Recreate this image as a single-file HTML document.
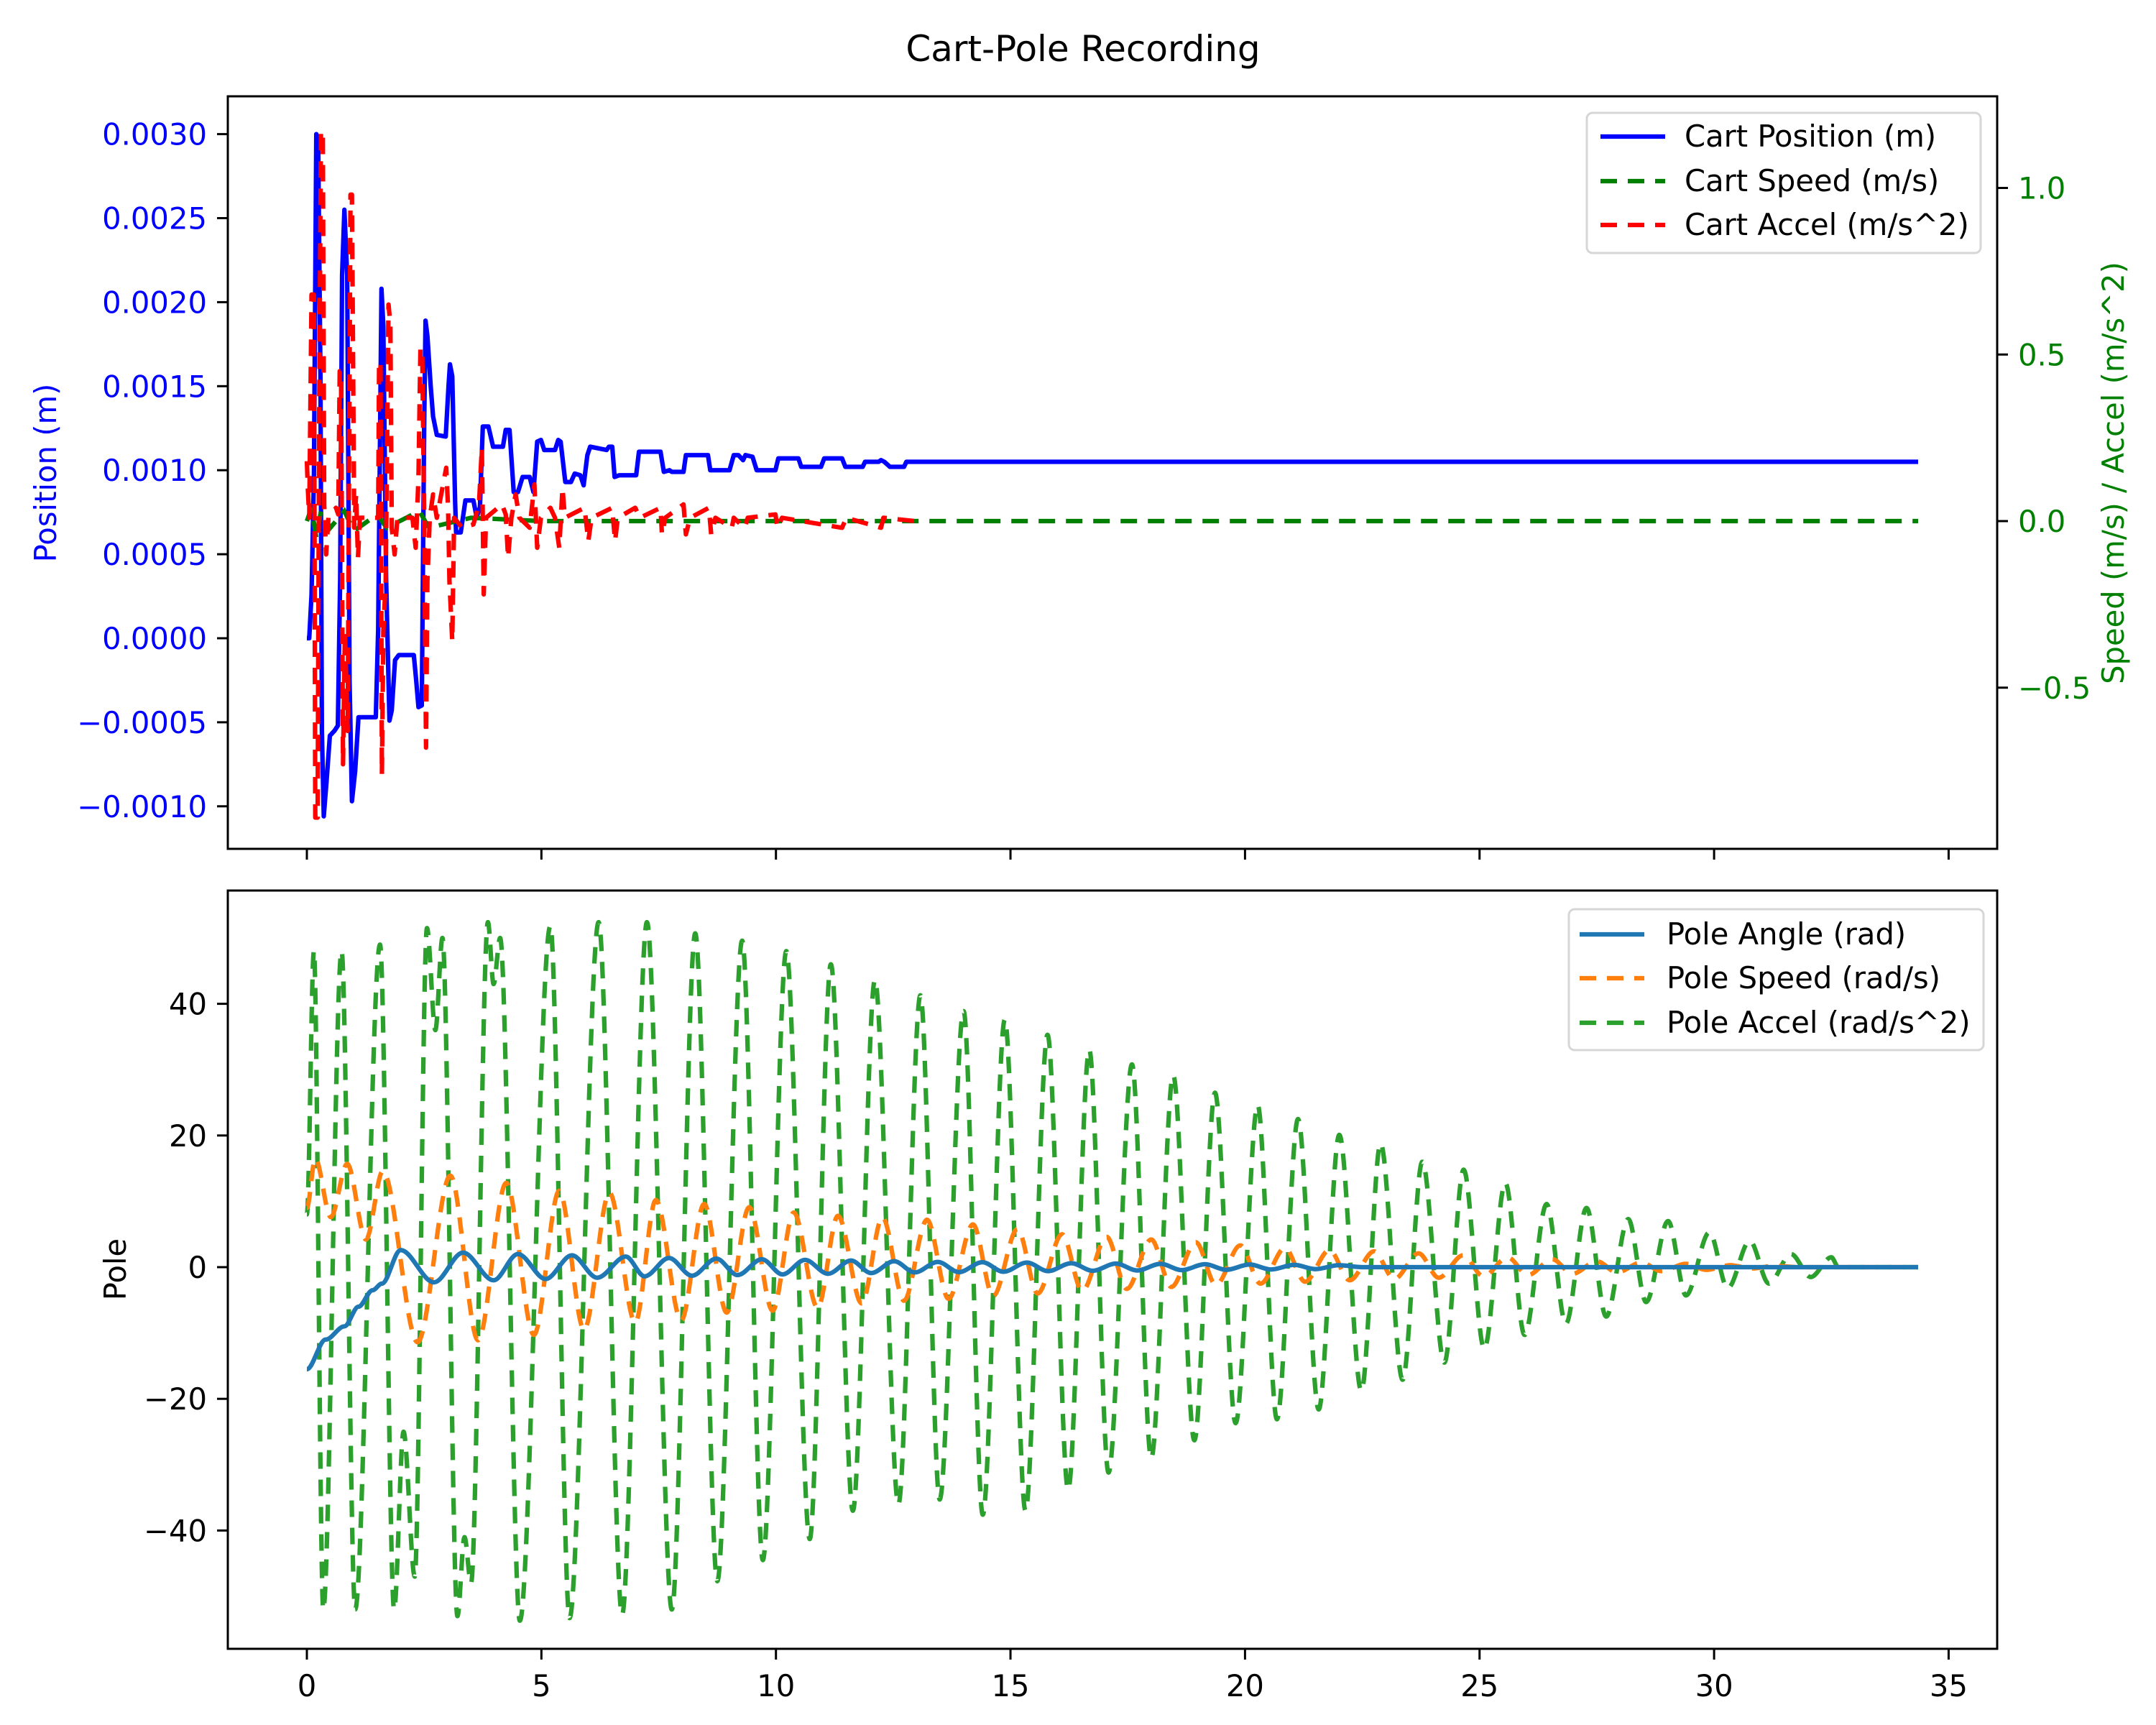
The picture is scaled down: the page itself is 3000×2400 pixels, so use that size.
<!DOCTYPE html>
<html><head><meta charset="utf-8"><style>
html,body{margin:0;padding:0;background:#fff}
svg{display:block}
text{font-family:"DejaVu Sans","Liberation Sans",sans-serif}
</style></head><body>
<svg id="chart" xmlns="http://www.w3.org/2000/svg" width="3000" height="2400" viewBox="0 0 3000 2400">
<rect width="3000" height="2400" fill="#fff"/>
<text x="1507" y="85" font-size="50" text-anchor="middle">Cart-Pole Recording</text>
<defs>
<clipPath id="clipTop"><rect x="317" y="134" width="2462" height="1047"/></clipPath>
<clipPath id="clipBot"><rect x="317" y="1239" width="2462" height="1055"/></clipPath>
</defs>
<g id="topPlot" clip-path="url(#clipTop)"></g>
<g id="botPlot" clip-path="url(#clipBot)"></g>
<g id="axes"></g>
<rect x="317" y="134" width="2462" height="1047" fill="none" stroke="#000" stroke-width="3"/>
<rect x="317" y="1239" width="2462" height="1055" fill="none" stroke="#000" stroke-width="3"/>
<text transform="translate(78,658) rotate(-90)" font-size="41.7" fill="#0000ff" text-anchor="middle">Position (m)</text>
<text transform="translate(2955,658) rotate(-90)" font-size="41.7" fill="#008000" text-anchor="middle">Speed (m/s) / Accel (m/s^2)</text>
<text transform="translate(175,1766) rotate(-90)" font-size="41.7" fill="#000" text-anchor="middle">Pole</text>
<g>
<rect x="2208" y="157" width="548" height="195" rx="8" fill="#fff" fill-opacity="0.8" stroke="#d6d6d6" stroke-width="3"/>
<line x1="2227" y1="190" x2="2317" y2="190" stroke="#0000ff" stroke-width="6.25"/>
<text x="2344" y="204" font-size="41.7">Cart Position (m)</text>
<line x1="2227" y1="252" x2="2317" y2="252" stroke="#008000" stroke-width="6.25" stroke-dasharray="23 15"/>
<text x="2344" y="266" font-size="41.7">Cart Speed (m/s)</text>
<line x1="2227" y1="313" x2="2317" y2="313" stroke="#ff0000" stroke-width="6.25" stroke-dasharray="23 15"/>
<text x="2344" y="327" font-size="41.7">Cart Accel (m/s^2)</text>
</g>
<g>
<rect x="2183" y="1265" width="577" height="196" rx="8" fill="#fff" fill-opacity="0.8" stroke="#d6d6d6" stroke-width="3"/>
<line x1="2198" y1="1300" x2="2288" y2="1300" stroke="#1f77b4" stroke-width="6.25"/>
<text x="2319" y="1314" font-size="41.7">Pole Angle (rad)</text>
<line x1="2198" y1="1361" x2="2288" y2="1361" stroke="#ff7f0e" stroke-width="6.25" stroke-dasharray="23 15"/>
<text x="2319" y="1375" font-size="41.7">Pole Speed (rad/s)</text>
<line x1="2198" y1="1423" x2="2288" y2="1423" stroke="#2ca02c" stroke-width="6.25" stroke-dasharray="23 15"/>
<text x="2319" y="1437" font-size="41.7">Pole Accel (rad/s^2)</text>
</g>
</svg>
<script>
// ---- data ----
const xTicks = [0,5,10,15,20,25,30,35];
const xTickLabels = ["0","5","10","15","20","25","30","35"];
const posTicks = [-0.0010,-0.0005,0,0.0005,0.0010,0.0015,0.0020,0.0025,0.0030];
const posTickLabels = ["\u22120.0010","\u22120.0005","0.0000","0.0005","0.0010","0.0015","0.0020","0.0025","0.0030"];
const rightTicks = [-0.5,0,0.5,1.0];
const rightTickLabels = ["\u22120.5","0.0","0.5","1.0"];
const poleTicks = [-40,-20,0,20,40];
const poleTickLabels = ["\u221240","\u221220","0","20","40"];

const cartPosT = [0,.05,.10,.15,.20,.24,.29,.32,.36,.42,.49,.59,.66,.71,.75,.80,.86,.91,.96,1.03,1.10,1.47,1.52,1.59,1.63,1.69,1.76,1.81,1.88,1.96,2.28,2.33,2.38,2.45,2.50,2.53,2.57,2.64,2.69,2.77,2.96,3.02,3.05,3.10,3.16,3.18,3.28,3.38,3.55,3.62,3.69,3.75,3.87,3.97,4.18,4.24,4.32,4.41,4.50,4.60,4.75,4.83,4.91,4.99,5.06,5.29,5.36,5.41,5.51,5.63,5.71,5.83,5.90,5.98,6.04,6.39,6.44,6.51,6.56,6.66,7.02,7.08,7.54,7.61,7.73,7.78,8.03,8.08,8.55,8.60,9.01,9.10,9.20,9.30,9.35,9.50,9.59,9.99,10.05,10.48,10.54,10.96,11.03,11.41,11.48,11.85,11.90,12.19,12.24,12.31,12.43,12.73,12.78,34.35];
const cartPosMm = [0,0,.26,.96,3.0,2.97,1.56,-.55,-1.06,-.85,-.58,-.55,-.52,.35,2.16,2.55,2.16,-.25,-.97,-.79,-.47,-.47,.05,2.08,1.86,.35,-.49,-.43,-.13,-.10,-.10,-.25,-.41,-.40,1.26,1.89,1.80,1.50,1.32,1.21,1.20,1.50,1.63,1.56,.81,.63,.63,.82,.82,.72,.78,1.26,1.26,1.14,1.14,1.24,1.24,.87,.87,.96,.96,.87,1.17,1.18,1.12,1.12,1.18,1.17,.93,.93,.98,.97,.91,1.09,1.14,1.12,1.14,1.14,.96,.97,.97,1.11,1.11,.99,1.00,.99,.99,1.09,1.09,1.00,1.00,1.09,1.09,1.06,1.09,1.08,1.00,1.00,1.07,1.07,1.02,1.02,1.07,1.07,1.02,1.02,1.05,1.05,1.06,1.05,1.02,1.02,1.05,1.05];

const cartAccT = [0,.02,.05,.10,.15,.18,.23,.26,.30,.34,.37,.41,.46,.62,.67,.70,.73,.77,.81,.87,.93,.96,1.01,1.05,1.09,1.13,1.52,1.54,1.57,1.60,1.63,1.68,1.74,1.78,1.81,1.87,1.93,2.25,2.32,2.38,2.42,2.46,2.50,2.54,2.57,2.62,2.69,2.77,2.97,3.01,3.04,3.10,3.14,3.31,3.55,3.67,3.73,3.77,3.82,4.16,4.24,4.29,4.36,4.45,4.53,4.75,4.85,4.91,4.99,5.19,5.29,5.38,5.45,5.50,5.92,6.00,6.07,6.51,6.57,6.63,7.00,7.10,7.54,7.57,7.64,8.03,8.08,8.17,8.57,8.62,8.71,9.06,9.10,9.33,9.40,9.99,10.03,10.13,11.41,11.50,12.24,12.29,12.97];
const cartAccV = [.18,.10,.01,.68,.68,-.89,-.89,.28,1.17,1.17,.05,-.10,.01,.04,.02,.45,.45,-.73,-.33,-.63,.98,.98,-.02,.08,-.11,.01,.01,.48,.47,-.76,-.33,-.18,.65,.59,-.02,-.10,.01,.01,-.08,.13,.52,.50,.01,-.68,-.18,.01,.08,.01,.16,.04,-.18,-.36,.01,-.02,-.01,.05,.22,-.22,.01,.05,.02,-.11,.01,.08,.01,-.02,.11,-.08,.01,.04,.01,-.08,.10,.01,.04,-.06,.01,.04,-.06,.01,.04,.01,.04,-.04,.01,.05,-.04,.01,.04,-.04,.01,-.02,.01,-.02,.01,.02,-.02,.01,-.02,.01,-.02,.01,0];

const cartSpdT = [0,.1,.2,.3,.5,.8,1.0,1.5,1.7,2.4,2.6,3.5,5,34.35];
const cartSpdV = [0,.04,-.05,.03,-.02,.03,-.03,.02,-.02,.03,-.02,.01,0,0];

const poleAccT = [0,.15,.35,.74,1.03,1.56,1.86,2.06,2.30,2.56,2.74,2.89,3.21,3.36,3.5,3.86,3.98,4.12,4.54,5.19,5.60,6.22,6.72,7.25,7.78,8.28,8.75,9.28,9.72,10.22,10.72,11.17,11.64,12.11,12.61,13.08,13.49,14.0,14.41,14.88,15.32,15.79,16.23,16.68,17.09,17.59,18.0,18.47,18.92,19.36,19.8,20.27,20.68,21.13,21.57,22.01,22.48,22.89,23.36,23.78,24.25,24.66,25.1,25.55,25.96,26.43,26.84,27.28,27.7,28.17,28.55,29.02,29.4,29.9,30.29,30.76,31.17,31.64,32.06,32.5,32.65,34.35];
const poleAccV = [8,48,-52,48,-52,49,-52,-25,-47,51.5,36,50,-53,-41,-48,52.4,43,50,-53.7,51.8,-53.3,52.4,-52.8,52.4,-52,50.7,-47.7,49.6,-44.5,48,-41.3,46,-37,43.6,-36,41.3,-35.3,38.9,-37.6,37.6,-37,35.3,-33.8,33,-31.2,30.8,-29,29.1,-26.3,26.5,-23.7,24.6,-23.1,22.5,-21.6,20.1,-18.8,18.8,-17.1,16,-14.5,14.8,-12.4,12.8,-10.3,9.6,-8.6,9,-7.5,7.3,-5.3,7,-4.3,5.3,-3.2,4,-2.5,2,-1.5,1.5,0,0];

const poleSpdT = [0,.18,.51,.86,1.26,1.62,2.36,3.06,3.65,4.25,4.84,5.38,5.91,6.45,7.0,7.44,7.98,8.47,8.95,9.43,9.93,10.38,10.89,11.32,11.83,12.27,12.73,13.22,13.68,14.2,14.63,15.15,15.58,16.1,16.53,17.05,17.48,18.0,18.43,18.95,19.38,19.9,20.33,20.85,21.28,21.8,22.23,22.75,23.18,23.7,24.13,24.65,25.08,25.6,26.03,26.55,26.98,27.5,27.93,28.45,28.88,29.4,29.83,30.35,30.8,31.3,31.8,34.35];
const poleSpdV = [9,16.5,7.6,15.7,4.2,14.6,-11.4,13.9,-11.1,12.8,-10.3,11.6,-9.5,11.3,-8.4,10.2,-8.1,9.6,-6.9,9.1,-6.6,8.3,-6.2,7.8,-5.5,7.6,-5.1,7.2,-4.8,6.5,-4.4,5.8,-4,5,-3.6,4.6,-3.3,4.2,-3,3.8,-2.7,3.3,-2.5,2.9,-2.2,2.6,-2,2.4,-1.8,2.1,-1.6,1.8,-1.4,1.5,-1.2,1.2,-1,0.9,-0.8,0.7,-0.6,0.5,-0.4,0.3,-0.2,0.2,0,0];

const poleAngT = [0,.4,.8,1.1,1.4,1.6,2.0,2.71,3.33,3.98,4.5,5.09,5.65,6.19,6.8,7.2,7.72,8.21,8.73,9.18,9.7,10.14,10.62,11.11,11.6,12.03,12.52,12.96,13.45,13.9,14.4,14.85,15.35,15.8,16.3,16.75,17.25,17.7,18.2,18.65,19.15,19.6,20.1,20.55,21.05,21.5,22.0,22.5,23.5,34.35];
const poleAngV = [-15.5,-11,-9,-6,-3.5,-2.5,2.6,-2.3,2.2,-2.0,2.0,-1.8,1.8,-1.6,1.6,-1.4,1.4,-1.3,1.3,-1.2,1.2,-1.1,1.1,-1.0,1.0,-0.9,0.9,-0.8,0.8,-0.75,0.75,-0.7,0.7,-0.6,0.6,-0.55,0.55,-0.5,0.5,-0.45,0.45,-0.4,0.4,-0.35,0.35,-0.3,0.3,0,0,0];

// ---- axes functions ----
const X = t => 427 + t*65.27;
const YL = v => 888 - v/0.0005*116.9;
const YR = v => 725 - v*463.5;
const YB = v => 1763 - v*9.16;
const NS = "http://www.w3.org/2000/svg";
const svg = document.getElementById('chart');
const topG = document.getElementById('topPlot');
const botG = document.getElementById('botPlot');
const axG = document.getElementById('axes');

function mk(tag, attrs, parent){
  const e = document.createElementNS(NS, tag);
  for (const k in attrs) e.setAttribute(k, attrs[k]);
  parent.appendChild(e);
  return e;
}
function linePath(ts, vs, fy){
  let d = '';
  for (let i=0;i<ts.length;i++) d += (i?'L':'M') + X(ts[i]).toFixed(1) + ',' + fy(vs[i]).toFixed(1);
  return d;
}
function smoothPath(ts, vs, fy){
  let d = 'M' + X(ts[0]).toFixed(1) + ',' + fy(vs[0]).toFixed(1);
  for (let i=1;i<ts.length;i++){
    const x0 = X(ts[i-1]), x1 = X(ts[i]), y0 = fy(vs[i-1]), y1 = fy(vs[i]);
    const dx = (x1-x0)/3;
    d += 'C' + (x0+dx).toFixed(1) + ',' + y0.toFixed(1) + ' ' + (x1-dx).toFixed(1) + ',' + y1.toFixed(1) + ' ' + x1.toFixed(1) + ',' + y1.toFixed(1);
  }
  return d;
}

// top series
const s1 = mk('path', {d: linePath(cartPosT, cartPosMm.map(v=>v/1000), YL), fill:'none', stroke:'#0000ff', 'stroke-width':6.25, 'stroke-linejoin':'round'}, topG);


const s2 = mk('path', {d: linePath(cartSpdT, cartSpdV, YR), fill:'none', stroke:'#008000', 'stroke-width':6.25, 'stroke-dasharray':'23 15'}, topG);


const s3 = mk('path', {d: linePath(cartAccT, cartAccV, YR), fill:'none', stroke:'#ff0000', 'stroke-width':6.25, 'stroke-dasharray':'23 15', 'stroke-linejoin':'round'}, topG);



// bottom series
const b3 = mk('path', {d: smoothPath(poleAccT, poleAccV, YB), fill:'none', stroke:'#2ca02c', 'stroke-width':6.25, 'stroke-dasharray':'23 15'}, botG);


const b2 = mk('path', {d: smoothPath(poleSpdT, poleSpdV, YB), fill:'none', stroke:'#ff7f0e', 'stroke-width':6.25, 'stroke-dasharray':'23 15'}, botG);


const b1 = mk('path', {d: smoothPath(poleAngT, poleAngV, YB), fill:'none', stroke:'#1f77b4', 'stroke-width':6.25}, botG);


botG.insertBefore(b1, null);
botG.insertBefore(b3, b1);
botG.insertBefore(b2, b1);

// ticks
xTicks.forEach((t,i)=>{
  const x = X(t);
  const a = mk('line', {x1:x, y1:1181, x2:x, y2:1196, stroke:'#000', 'stroke-width':3}, axG);
  
  
  const b = mk('line', {x1:x, y1:2294, x2:x, y2:2309, stroke:'#000', 'stroke-width':3}, axG);
  
  
  const l = mk('text', {x:x, y:2360, 'font-size':41.7, 'text-anchor':'middle'}, axG);
  l.textContent = xTickLabels[i];
  
  
});
posTicks.forEach((v,i)=>{
  const y = YL(v);
  const a = mk('line', {x1:302, y1:y, x2:317, y2:y, stroke:'#000', 'stroke-width':3}, axG);
  
  
  const l = mk('text', {x:288, y:y+15, 'font-size':41.7, 'text-anchor':'end', fill:'#0000ff'}, axG);
  l.textContent = posTickLabels[i];
  
  
});
rightTicks.forEach((v,i)=>{
  const y = YR(v);
  const a = mk('line', {x1:2779, y1:y, x2:2794, y2:y, stroke:'#000', 'stroke-width':3}, axG);
  
  
  const l = mk('text', {x:2808, y:y+15, 'font-size':41.7, 'text-anchor':'start', fill:'#008000'}, axG);
  l.textContent = rightTickLabels[i];
  
  
});
poleTicks.forEach((v,i)=>{
  const y = YB(v);
  const a = mk('line', {x1:302, y1:y, x2:317, y2:y, stroke:'#000', 'stroke-width':3}, axG);
  
  
  const l = mk('text', {x:288, y:y+15, 'font-size':41.7, 'text-anchor':'end'}, axG);
  l.textContent = poleTickLabels[i];
  
  
});
</script>
</body></html>
